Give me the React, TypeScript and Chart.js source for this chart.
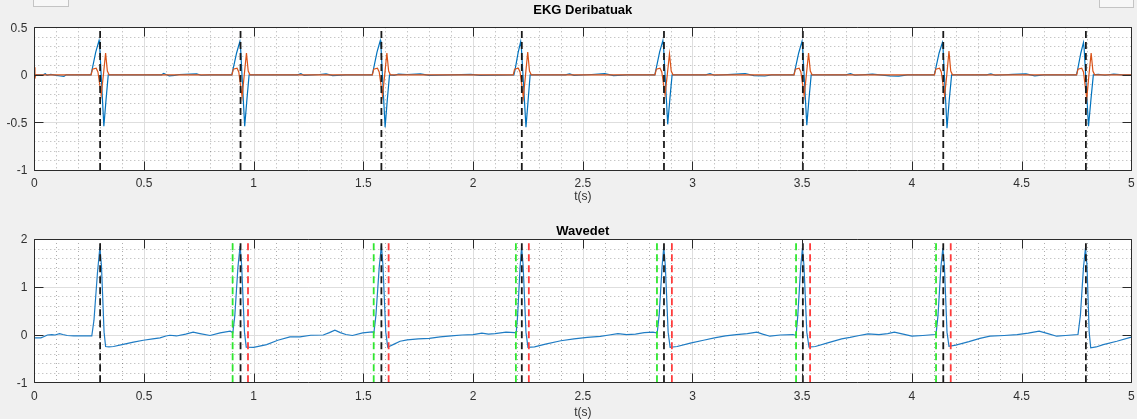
import { useEffect, useRef } from 'react';
import { Chart, registerables } from 'chart.js';

Chart.register(...registerables);

// Shared time axis (seconds)
const xTickValues = [0, 0.5, 1, 1.5, 2, 2.5, 3, 3.5, 4, 4.5, 5];
const xTickLabels = ['0', '0.5', '1', '1.5', '2', '2.5', '3', '3.5', '4', '4.5', '5'];

// Upper panel y ticks
const derivYTicks = [-1, -0.5, 0, 0.5];
const derivYLabels = ['-1', '-0.5', '0', '0.5'];

// Lower panel y ticks
const ecgYTicks = [-1, 0, 1, 2];
const ecgYLabels = ['-1', '0', '1', '2'];

// Detected R peaks, QRS onsets and QRS offsets (s)
const rPeaks = [0.300, 0.940, 1.582, 2.222, 2.870, 3.503, 4.143, 4.793];
const qrsOnsets = [0.904, 1.547, 2.195, 2.838, 3.472, 4.110];
const qrsOffsets = [0.974, 1.615, 2.254, 2.906, 3.536, 4.177];

// First derivative [t, value]
const firstDerivative: [number, number][] = [
  [0.000, 0.000], [0.040, 0.000], [0.050, 0.012], [0.058, -0.004], [0.075, 0.006], [0.100, -0.006],
  [0.120, -0.012], [0.135, -0.016], [0.145, 0.000], [0.258, 0.000],
  [0.263, 0.05], [0.280, 0.24], [0.295, 0.36], [0.298, 0.30], [0.317, -0.54], [0.327, -0.26], [0.337, 0.0],
  [0.580, 0.000], [0.590, 0.014], [0.600, 0.004], [0.615, -0.010], [0.640, -0.006], [0.660, 0.004],
  [0.740, 0.010], [0.760, -0.004], [0.800, 0.000], [0.900, 0.000],
  [0.905, 0.05], [0.922, 0.23], [0.937, 0.35], [0.940, 0.29], [0.959, -0.54], [0.969, -0.26], [0.979, 0.0],
  [1.200, 0.000], [1.215, 0.012], [1.230, -0.006], [1.300, 0.004], [1.330, 0.010], [1.360, -0.008],
  [1.420, 0.000], [1.540, 0.000],
  [1.545, 0.05], [1.562, 0.24], [1.577, 0.36], [1.580, 0.30], [1.599, -0.55], [1.609, -0.26], [1.619, 0.0],
  [1.640, -0.006], [1.660, 0.008], [1.700, 0.004], [1.760, 0.010], [1.800, -0.006], [1.900, 0.000],
  [1.990, 0.006], [2.030, -0.006], [2.186, 0.000],
  [2.191, 0.05], [2.205, 0.23], [2.217, 0.35], [2.220, 0.29], [2.241, -0.55], [2.251, -0.26], [2.260, 0.0],
  [2.420, 0.000], [2.440, 0.010], [2.460, -0.006], [2.540, 0.004], [2.600, 0.012], [2.640, -0.008],
  [2.700, 0.000], [2.828, 0.000],
  [2.833, 0.05], [2.850, 0.24], [2.865, 0.36], [2.868, 0.30], [2.887, -0.52], [2.897, -0.25], [2.907, 0.0],
  [3.060, 0.000], [3.080, 0.012], [3.100, -0.004], [3.180, 0.006], [3.240, 0.014], [3.280, -0.008],
  [3.330, -0.012], [3.360, 0.000], [3.462, 0.000],
  [3.467, 0.05], [3.484, 0.23], [3.499, 0.35], [3.502, 0.29], [3.521, -0.53], [3.531, -0.25], [3.541, 0.0],
  [3.700, 0.000], [3.720, 0.012], [3.740, -0.004], [3.820, 0.008], [3.900, -0.010], [3.940, -0.014],
  [3.980, 0.000], [4.102, 0.000],
  [4.107, 0.05], [4.124, 0.23], [4.139, 0.34], [4.142, 0.28], [4.160, -0.56], [4.170, -0.27], [4.181, 0.0],
  [4.340, 0.000], [4.360, 0.010], [4.380, -0.004], [4.460, 0.006], [4.520, 0.010], [4.560, -0.010],
  [4.600, 0.000], [4.750, 0.000],
  [4.755, 0.05], [4.770, 0.23], [4.782, 0.34], [4.785, 0.28], [4.805, -0.54], [4.816, -0.26], [4.827, 0.0],
  [4.850, 0.006], [4.880, -0.004], [4.920, 0.008], [4.960, 0.000], [5.000, 0.000],
];

// Second derivative [t, value]
const secondDerivative: [number, number][] = [
  [0.000, 0.08], [0.003, -0.04], [0.006, 0.0], [0.259, 0.0],
  [0.265, 0.06], [0.282, 0.07], [0.290, 0.03], [0.305, -0.21], [0.315, 0.0], [0.325, 0.23], [0.333, 0.04], [0.341, 0.0],
  [0.901, 0.0],
  [0.907, 0.06], [0.924, 0.07], [0.932, 0.03], [0.947, -0.23], [0.957, 0.0], [0.967, 0.23], [0.975, 0.04], [0.983, 0.0],
  [1.541, 0.0],
  [1.547, 0.06], [1.564, 0.07], [1.572, 0.03], [1.587, -0.22], [1.597, 0.0], [1.607, 0.23], [1.615, 0.04], [1.623, 0.0],
  [2.183, 0.0],
  [2.189, 0.06], [2.206, 0.07], [2.214, 0.03], [2.229, -0.24], [2.239, 0.0], [2.249, 0.24], [2.257, 0.04], [2.265, 0.0],
  [2.829, 0.0],
  [2.835, 0.06], [2.852, 0.07], [2.860, 0.03], [2.875, -0.21], [2.885, 0.0], [2.895, 0.22], [2.903, 0.04], [2.911, 0.0],
  [3.463, 0.0],
  [3.469, 0.06], [3.486, 0.07], [3.494, 0.03], [3.509, -0.22], [3.519, 0.0], [3.529, 0.23], [3.537, 0.04], [3.545, 0.0],
  [4.103, 0.0],
  [4.109, 0.06], [4.126, 0.07], [4.134, 0.03], [4.149, -0.22], [4.159, 0.0], [4.169, 0.25], [4.177, 0.04], [4.185, 0.0],
  [4.751, 0.0],
  [4.757, 0.06], [4.774, 0.07], [4.782, 0.03], [4.797, -0.25], [4.807, 0.0], [4.817, 0.23], [4.825, 0.04], [4.833, 0.0],
  [5.000, 0.0],
];

// ECG signal [t, mV]
const ecgSignal: [number, number][] = [
  [0.000, -0.07], [0.030, -0.07], [0.045, -0.04], [0.060, -0.01], [0.080, 0.00], [0.095, -0.01],
  [0.115, 0.02], [0.130, 0.00], [0.150, -0.02], [0.180, -0.03], [0.220, -0.03], [0.262, -0.03],
  [0.272, 0.30], [0.288, 1.30], [0.299, 1.83], [0.306, 1.45], [0.318, 0.05], [0.325, -0.25], [0.340, -0.26], [0.361, -0.25],
  [0.400, -0.21], [0.452, -0.16], [0.497, -0.12], [0.540, -0.09], [0.573, -0.07], [0.600, -0.03],
  [0.618, -0.015], [0.648, -0.03], [0.690, 0.01], [0.724, 0.05], [0.755, 0.02], [0.801, -0.02],
  [0.847, 0.035], [0.893, 0.07], [0.905, 0.04],
  [0.914, 0.40], [0.928, 1.40], [0.938, 1.85], [0.945, 1.45], [0.958, 0.05], [0.966, -0.265], [1.000, -0.27],
  [1.059, -0.21], [1.110, -0.12], [1.165, -0.05], [1.211, -0.05], [1.260, -0.015], [1.317, -0.01],
  [1.345, 0.04], [1.370, 0.09], [1.395, 0.04], [1.420, 0.00], [1.450, -0.02], [1.497, 0.035],
  [1.540, 0.055], [1.548, 0.04],
  [1.557, 0.40], [1.572, 1.40], [1.582, 1.87], [1.589, 1.45], [1.602, 0.05], [1.611, -0.265], [1.640, -0.20],
  [1.667, -0.14], [1.700, -0.11], [1.750, -0.09], [1.800, -0.08], [1.850, -0.05], [1.900, -0.03],
  [1.950, -0.01], [2.000, 0.00], [2.040, 0.03], [2.070, 0.01], [2.100, 0.02], [2.150, 0.05],
  [2.190, 0.04], [2.196, 0.02],
  [2.203, 0.40], [2.214, 1.40], [2.221, 1.83], [2.228, 1.45], [2.241, 0.05], [2.250, -0.27], [2.280, -0.26],
  [2.330, -0.20], [2.400, -0.13], [2.460, -0.09], [2.520, -0.06], [2.580, -0.04], [2.620, -0.01],
  [2.660, 0.02], [2.700, 0.00], [2.740, 0.01], [2.780, 0.04], [2.820, 0.05], [2.839, 0.03],
  [2.848, 0.40], [2.861, 1.40], [2.869, 1.83], [2.876, 1.45], [2.889, 0.05], [2.898, -0.27], [2.930, -0.25],
  [2.990, -0.18], [3.050, -0.12], [3.100, -0.07], [3.150, -0.03], [3.200, 0.00], [3.250, 0.02],
  [3.293, 0.05], [3.320, 0.01], [3.353, -0.035], [3.400, -0.01], [3.458, 0.00], [3.472, -0.02],
  [3.480, 0.40], [3.493, 1.40], [3.501, 1.81], [3.508, 1.45], [3.521, 0.05], [3.531, -0.265], [3.560, -0.25],
  [3.620, -0.17], [3.680, -0.09], [3.718, -0.06], [3.760, -0.02], [3.800, 0.015], [3.850, 0.00],
  [3.890, 0.02], [3.920, 0.05], [3.950, 0.02], [4.000, -0.035], [4.050, -0.02], [4.105, 0.00],
  [4.110, 0.01],
  [4.119, 0.40], [4.132, 1.40], [4.141, 1.81], [4.148, 1.45], [4.160, 0.05], [4.169, -0.245], [4.200, -0.22],
  [4.260, -0.15], [4.310, -0.08], [4.356, -0.035], [4.420, -0.02], [4.480, 0.00], [4.530, 0.03],
  [4.580, 0.07], [4.620, 0.02], [4.660, -0.035], [4.700, -0.02], [4.757, 0.00],
  [4.768, 0.40], [4.782, 1.40], [4.791, 1.81], [4.798, 1.45], [4.808, 0.05], [4.815, -0.28], [4.840, -0.26],
  [4.872, -0.21], [4.934, -0.14], [5.000, -0.055],
];

const FONT = '"Liberation Sans", Arial, Helvetica, sans-serif';
const AXIS_COLOR = '#2b2b2b';

type FrameOpts = {
  title: string;
  titleY: number;
  tickLabelY: number;
  xLabel: string;
  xLabelY: number;
  yTicks: number[];
  yLabels: string[];
  yMinor: number;
  yMajor: number;
};

const axesFrame = {
  id: 'axesFrame',
  beforeDraw(chart: any, _args: any, opts: FrameOpts) {
    const { ctx, chartArea: a } = chart;
    const xs = chart.scales.x;
    const ys = chart.scales.y;
    ctx.save();
    ctx.fillStyle = '#f0f0f0';
    ctx.fillRect(0, 0, chart.width, chart.height);
    ctx.fillStyle = '#ffffff';
    ctx.fillRect(a.left, a.top, a.right - a.left, a.bottom - a.top);

    // minor grid (dotted)
    ctx.strokeStyle = 'rgba(0,0,0,0.32)';
    ctx.lineWidth = 1;
    ctx.setLineDash([1, 3]);
    ctx.beginPath();
    for (let i = 1; i < 50; i++) {
      if (i % 5 === 0) continue;
      const px = Math.round(xs.getPixelForValue(i / 10)) + 0.5;
      ctx.moveTo(px, a.top);
      ctx.lineTo(px, a.bottom);
    }
    const n = Math.round((ys.max - ys.min) / opts.yMinor);
    const ratio = Math.round(opts.yMajor / opts.yMinor);
    for (let i = 1; i < n; i++) {
      if (i % ratio === 0) continue;
      const py = Math.round(ys.getPixelForValue(ys.min + i * opts.yMinor)) + 0.5;
      ctx.moveTo(a.left, py);
      ctx.lineTo(a.right, py);
    }
    ctx.stroke();

    // major grid (solid)
    ctx.setLineDash([]);
    ctx.strokeStyle = '#dedede';
    ctx.beginPath();
    xTickValues.forEach((v) => {
      const px = Math.round(xs.getPixelForValue(v)) + 0.5;
      ctx.moveTo(px, a.top);
      ctx.lineTo(px, a.bottom);
    });
    opts.yTicks.forEach((v) => {
      const py = Math.round(ys.getPixelForValue(v)) + 0.5;
      ctx.moveTo(a.left, py);
      ctx.lineTo(a.right, py);
    });
    ctx.stroke();
    ctx.restore();
  },
  afterDatasetsDraw(chart: any, _args: any, opts: FrameOpts) {
    const { ctx, chartArea: a } = chart;
    const xs = chart.scales.x;
    const ys = chart.scales.y;
    const L = Math.round(a.left) + 0.5;
    const R = Math.round(a.right) + 0.5;
    const T = Math.round(a.top) + 0.5;
    const B = Math.round(a.bottom) + 0.5;
    const tick = 9;
    ctx.save();
    ctx.strokeStyle = AXIS_COLOR;
    ctx.lineWidth = 1;
    ctx.beginPath();
    ctx.rect(L, T, R - L, B - T);
    xTickValues.forEach((v) => {
      const px = Math.round(xs.getPixelForValue(v)) + 0.5;
      ctx.moveTo(px, B);
      ctx.lineTo(px, B - tick);
      ctx.moveTo(px, T);
      ctx.lineTo(px, T + tick);
    });
    opts.yTicks.forEach((v) => {
      const py = Math.round(ys.getPixelForValue(v)) + 0.5;
      ctx.moveTo(L, py);
      ctx.lineTo(L + tick, py);
      ctx.moveTo(R, py);
      ctx.lineTo(R - tick, py);
    });
    ctx.stroke();
    ctx.restore();
  },
  afterDraw(chart: any, _args: any, opts: FrameOpts) {
    const { ctx, chartArea: a } = chart;
    const xs = chart.scales.x;
    const ys = chart.scales.y;
    const cx = (a.left + a.right) / 2;
    ctx.save();
    ctx.fillStyle = '#303030';
    ctx.font = `12px ${FONT}`;
    ctx.textBaseline = 'middle';
    ctx.textAlign = 'center';
    xTickValues.forEach((v, i) => {
      ctx.fillText(xTickLabels[i], xs.getPixelForValue(v), opts.tickLabelY);
    });
    ctx.textAlign = 'right';
    opts.yTicks.forEach((v, i) => {
      ctx.fillText(opts.yLabels[i], a.left - 7, ys.getPixelForValue(v) + 1);
    });
    ctx.textAlign = 'center';
    ctx.fillText(opts.xLabel, cx, opts.xLabelY);
    ctx.fillStyle = '#000000';
    ctx.font = `bold 13px ${FONT}`;
    ctx.fillText(opts.title, cx, opts.titleY);
    ctx.restore();
  },
};

function vLine(t: number, y0: number, y1: number, color: string) {
  return {
    data: [{ x: t, y: y0 }, { x: t, y: y1 }],
    borderColor: color,
    borderWidth: 1.8,
    borderDash: [7, 4],
    pointRadius: 0,
  };
}

function series(points: [number, number][], color: string) {
  return {
    data: points.map(([x, y]) => ({ x, y })),
    borderColor: color,
    borderWidth: 1.2,
    pointRadius: 0,
    tension: 0,
  };
}

function makeConfig(datasets: any[], yMin: number, yMax: number, padding: any, frame: FrameOpts): any {
  return {
    type: 'line',
    data: { datasets },
    options: {
      animation: false,
      responsive: false,
      events: [],
      layout: { padding },
      scales: {
        x: { type: 'linear', min: 0, max: 5, display: false },
        y: { type: 'linear', min: yMin, max: yMax, display: false },
      },
      plugins: {
        legend: { display: false },
        tooltip: { enabled: false },
        axesFrame: frame,
      },
    },
    plugins: [axesFrame],
  };
}

export default function App() {
  const topRef = useRef<HTMLCanvasElement>(null);
  const bottomRef = useRef<HTMLCanvasElement>(null);

  useEffect(() => {
    const topDatasets = [
      ...rPeaks.map((t) => vLine(t, -1, 0.5, '#1a1a1a')),
      series(secondDerivative, '#D95319'),
      series(firstDerivative, '#0072BD'),
    ];
    const bottomDatasets = [
      ...rPeaks.map((t) => vLine(t, -1, 2, '#1a1a1a')),
      ...qrsOnsets.map((t) => vLine(t, -1, 2, '#2ee62e')),
      ...qrsOffsets.map((t) => vLine(t, -1, 2, '#ff3b3b')),
      series(ecgSignal, '#1f7cc4'),
    ];

    const top = new Chart(
      topRef.current!,
      makeConfig(topDatasets, -1, 0.5, { left: 34.3, right: 5.7, top: 27.3, bottom: 40 }, {
        title: 'EKG Deribatuak',
        titleY: 10,
        tickLabelY: 184,
        xLabel: 't(s)',
        xLabelY: 197,
        yTicks: derivYTicks,
        yLabels: derivYLabels,
        yMinor: 0.1,
        yMajor: 0.5,
      })
    );
    const bottom = new Chart(
      bottomRef.current!,
      makeConfig(bottomDatasets, -1, 2, { left: 34.3, right: 5.7, top: 29, bottom: 36.7 }, {
        title: 'Wavedet',
        titleY: 21,
        tickLabelY: 186.7,
        xLabel: 't(s)',
        xLabelY: 203,
        yTicks: ecgYTicks,
        yLabels: ecgYLabels,
        yMinor: 0.2,
        yMajor: 1,
      })
    );
    return () => {
      top.destroy();
      bottom.destroy();
    };
  }, []);

  return (
    <div
      style={{
        position: 'fixed',
        left: 0,
        top: 0,
        width: 1137,
        height: 419,
        overflow: 'hidden',
        background: '#f0f0f0',
      }}
    >
      <canvas
        ref={topRef}
        width={1137}
        height={210}
        style={{ position: 'absolute', left: 0, top: 0, width: 1137, height: 210 }}
      />
      <canvas
        ref={bottomRef}
        width={1137}
        height={209}
        style={{ position: 'absolute', left: 0, top: 210, width: 1137, height: 209 }}
      />
      <div
        style={{
          position: 'absolute',
          left: 33,
          top: -10,
          width: 34,
          height: 15,
          border: '1px solid #c4c4c4',
          background: '#f7f7f7',
        }}
      />
      <div
        style={{
          position: 'absolute',
          left: 1099,
          top: -10,
          width: 33,
          height: 16,
          border: '1px solid #c4c4c4',
          background: '#f7f7f7',
        }}
      />
    </div>
  );
}
